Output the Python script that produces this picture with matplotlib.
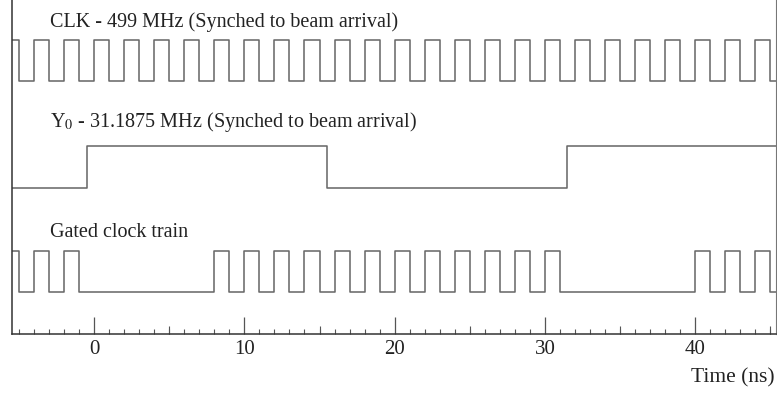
"""
Timing diagram: CLK, Y0 and gated clock train vs time
"""

import matplotlib
matplotlib.use("Agg")
import matplotlib.pyplot as plt
from matplotlib import rcParams

rcParams["font.family"] = ["Liberation Serif", "DejaVu Serif"]
rcParams["mathtext.fontset"] = "stix"
rcParams["font.size"] = 14.5

# rising / falling edge times (ns)
clk_rise = [-6, -4, -2, 0, 2, 4, 6, 8, 10, 12, 14, 16, 18, 20, 22, 24, 26,
            28, 30, 32, 34, 36, 38, 40, 42, 44]
clk_fall = [-5, -3, -1, 1, 3, 5, 7, 9, 11, 13, 15, 17, 19, 21, 23, 25, 27,
            29, 31, 33, 35, 37, 39, 41, 43, 45]

y0_rise = [-0.5, 31.5]
y0_fall = [15.5]

gated_rise = [-6, -4, -2, 8, 10, 12, 14, 16, 18, 20, 22, 24, 26, 28, 30,
              40, 42, 44]
gated_fall = [-5, -3, -1, 9, 11, 13, 15, 17, 19, 21, 23, 25, 27, 29, 31,
              41, 43, 45]

labels = [
    "CLK - 499 MHz (Synched to beam arrival)",
    r"Y$_0$ - 31.1875 MHz (Synched to beam arrival)",
    "Gated clock train",
]

T0, T1 = -5.46, 45.34
# (low, high) level of each track in axes units
tracks = [(0.757, 0.880), (0.438, 0.564), (0.127, 0.249)]
label_y = [0.919, 0.621, 0.290]


def waveform(rise, fall, low, high):
    """Step waveform from edge lists, clipped to [T0, T1]"""
    events = sorted([(t, high) for t in rise] + [(t, low) for t in fall])
    level = low
    for t, lev in events:
        if t > T0:
            break
        level = lev
    if events and events[0][0] > T0:
        level = high if events[0][1] == low else low
    xs, ys = [T0], [level]
    for t, lev in events:
        if T0 < t < T1:
            xs.append(t)
            ys.append(lev)
    xs.append(T1)
    ys.append(ys[-1])
    return xs, ys


fig = plt.figure(figsize=(7.77, 3.98), dpi=100)
ax = fig.add_axes([12 / 777, 64 / 398, (775.5 - 12) / 777, 334 / 398])

signals = [(clk_rise, clk_fall), (y0_rise, y0_fall), (gated_rise, gated_fall)]
for (rise, fall), (low, high), label, ly in zip(signals, tracks, labels, label_y):
    xs, ys = waveform(rise, fall, low, high)
    ax.step(xs, ys, where="post", color="#6a6a6a", lw=1.15)
    ax.text(-2.93, ly, label, va="baseline", ha="left", color="#222222",
            fontsize=14.5)

ax.set_xlim(T0, T1)
ax.set_ylim(0, 1)
ax.set_yticks([])
ax.spines["top"].set_visible(False)
for s in ["left", "right", "bottom"]:
    ax.spines[s].set_color("#333333")
    ax.spines[s].set_linewidth(1.1)
ax.spines["right"].set_color("#777777")
ax.spines["right"].set_linewidth(0.8)

ax.set_xticks([0, 10, 20, 30, 40])
ax.set_xticks(range(-5, 46), minor=True)
ax.tick_params(axis="x", which="major", direction="in", length=12, width=0.9,
               color="#555555", pad=4, labelsize=15, labelcolor="#222222")
ax.tick_params(axis="x", which="minor", direction="in", length=3.5, width=0.8,
               color="#555555")

# medium ticks at the 5 ns marks
sec = ax.secondary_xaxis("bottom")
sec.set_xticks([5, 15, 25, 35, 45])
sec.set_xticklabels([])
sec.tick_params(axis="x", direction="in", length=6, width=0.8, color="#555555")
sec.spines["bottom"].set_visible(False)

fig.text(775 / 777, 1 - 378 / 398, "Time (ns)", ha="right", va="center",
         fontsize=15.5, color="#222222")

plt.savefig("out.png", dpi=100)
